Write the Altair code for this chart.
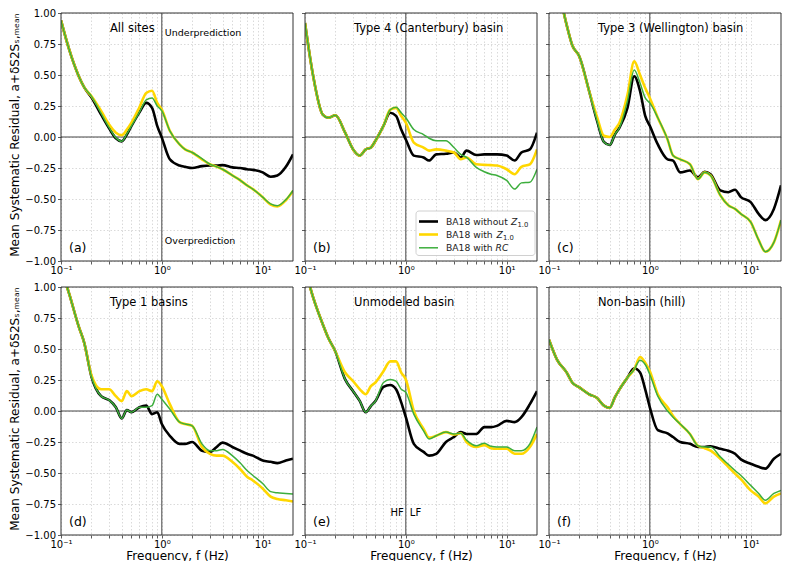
import altair as alt
import pandas as pd

FONT = "DejaVu Sans"

FREQ = [0.1, 0.12, 0.15, 0.17, 0.2, 0.25, 0.3, 0.35, 0.4, 0.45, 0.5, 0.6, 0.7, 0.8, 0.9,
        1.0, 1.2, 1.5, 1.7, 2.0, 2.5, 3.0, 3.5, 4.0, 5.0, 6.0, 7.0, 8.0, 10.0, 12.0, 14.0, 17.0, 20.0]

SERIES = ["BA18 without Z1.0", "BA18 with Z1.0", "BA18 with RC"]
COLORS = ["#000000", "#FFD700", "#3DAE3D"]
WIDTHS = [2.6, 2.6, 1.5]

PANELS = ["All sites", "Type 4 (Canterbury) basin", "Type 3 (Wellington) basin",
          "Type 1 basins", "Unmodeled basin", "Non-basin (hill)"]
LETTERS = ["(a)", "(b)", "(c)", "(d)", "(e)", "(f)"]

# (a) All sites
a_black = [0.94, 0.71, 0.49, 0.40, 0.32, 0.18, 0.07, -0.01, -0.035, 0.02, 0.09, 0.20, 0.275, 0.235, 0.09,
           -0.005, -0.18, -0.23, -0.24, -0.25, -0.235, -0.23, -0.23, -0.227, -0.245, -0.25, -0.26, -0.265,
           -0.285, -0.32, -0.31, -0.24, -0.14]
a_gold = [0.94, 0.71, 0.49, 0.40, 0.33, 0.21, 0.10, 0.035, 0.015, 0.06, 0.115, 0.24, 0.355, 0.373, 0.275,
          0.22, 0.05, -0.06, -0.10, -0.125, -0.18, -0.22, -0.24, -0.26, -0.31, -0.35, -0.39, -0.42,
          -0.485, -0.545, -0.56, -0.51, -0.435]
a_green = [0.94, 0.71, 0.49, 0.40, 0.33, 0.19, 0.075, -0.005, -0.035, 0.025, 0.09, 0.20, 0.30, 0.315, 0.25,
           0.21, 0.05, -0.06, -0.10, -0.125, -0.175, -0.22, -0.24, -0.26, -0.31, -0.35, -0.39, -0.42,
           -0.485, -0.54, -0.555, -0.505, -0.43]

# (b) Type 4 (Canterbury) basin
b_black = [0.92, 0.50, 0.18, 0.155, 0.175, 0.035, -0.10, -0.15, -0.10, -0.085, -0.03, 0.09, 0.195, 0.17, 0.06,
           -0.02, -0.15, -0.165, -0.19, -0.14, -0.135, -0.125, -0.165, -0.11, -0.145, -0.14, -0.14, -0.14,
           -0.15, -0.19, -0.125, -0.10, 0.035]
b_gold = [0.92, 0.50, 0.18, 0.155, 0.175, 0.035, -0.10, -0.15, -0.10, -0.085, -0.03, 0.09, 0.22, 0.235, 0.17,
          0.115, -0.045, -0.085, -0.11, -0.10, -0.11, -0.125, -0.18, -0.165, -0.22, -0.225, -0.227, -0.23,
          -0.26, -0.30, -0.24, -0.22, -0.10]
b_green = [0.92, 0.50, 0.18, 0.155, 0.175, 0.035, -0.10, -0.15, -0.10, -0.085, -0.03, 0.09, 0.22, 0.24, 0.195,
           0.155, 0.06, 0.02, -0.01, -0.03, -0.03, -0.085, -0.14, -0.165, -0.245, -0.28, -0.30, -0.31,
           -0.35, -0.42, -0.37, -0.365, -0.26]

# (c) Type 3 (Wellington) basin
c_black = [1.5, 1.25, 0.9, 0.74, 0.65, 0.37, 0.13, -0.04, -0.065, 0.02, 0.075, 0.235, 0.49, 0.37, 0.17,
           0.09, -0.06, -0.18, -0.19, -0.285, -0.27, -0.325, -0.28, -0.30, -0.43, -0.445, -0.425, -0.485,
           -0.525, -0.62, -0.67, -0.58, -0.39]
c_gold = [1.5, 1.25, 0.9, 0.74, 0.65, 0.37, 0.16, 0.01, 0.0, 0.06, 0.115, 0.34, 0.61, 0.50, 0.395,
          0.315, 0.155, -0.02, -0.15, -0.18, -0.22, -0.34, -0.285, -0.31, -0.47, -0.55, -0.58, -0.62,
          -0.685, -0.83, -0.925, -0.85, -0.67]
c_green = [1.5, 1.25, 0.9, 0.74, 0.65, 0.37, 0.13, -0.04, -0.065, 0.02, 0.075, 0.29, 0.54, 0.435, 0.315,
           0.275, 0.155, -0.02, -0.15, -0.18, -0.22, -0.34, -0.285, -0.31, -0.47, -0.55, -0.58, -0.62,
           -0.685, -0.83, -0.925, -0.85, -0.67]

# (d) Type 1 basins
d_black = [1.15, 0.95, 0.68, 0.55, 0.28, 0.12, 0.088, 0.03, -0.06, 0.008, -0.01, 0.03, 0.043, -0.025, -0.01,
           -0.105, -0.2, -0.265, -0.265, -0.25, -0.32, -0.33, -0.29, -0.255, -0.29, -0.32, -0.345, -0.36,
           -0.40, -0.41, -0.42, -0.40, -0.385]
d_gold = [1.15, 0.95, 0.68, 0.55, 0.29, 0.175, 0.175, 0.12, 0.08, 0.16, 0.12, 0.16, 0.175, 0.16, 0.24,
          0.2, 0.055, -0.09, -0.105, -0.12, -0.29, -0.345, -0.36, -0.36, -0.41, -0.47, -0.53, -0.56,
          -0.625, -0.69, -0.71, -0.72, -0.73]
d_green = [1.15, 0.95, 0.68, 0.55, 0.28, 0.12, 0.088, 0.03, -0.06, 0.008, -0.01, 0.03, 0.03, 0.043, 0.135,
           0.095, 0.015, -0.09, -0.105, -0.12, -0.265, -0.32, -0.32, -0.31, -0.36, -0.42, -0.48, -0.52,
           -0.585, -0.65, -0.66, -0.665, -0.67]

# (e) Unmodeled basin
e_black = [1.15, 0.92, 0.70, 0.59, 0.48, 0.255, 0.16, 0.08, -0.01, 0.04, 0.08, 0.195, 0.21, 0.175, 0.07,
           -0.05, -0.265, -0.33, -0.36, -0.345, -0.25, -0.21, -0.17, -0.185, -0.185, -0.13, -0.13, -0.12,
           -0.08, -0.09, -0.05, 0.055, 0.16]
e_gold = [1.15, 0.92, 0.70, 0.59, 0.48, 0.31, 0.24, 0.175, 0.135, 0.20, 0.23, 0.32, 0.40, 0.40, 0.31,
          0.255, 0.0, -0.145, -0.215, -0.2, -0.17, -0.19, -0.18, -0.25, -0.29, -0.275, -0.30, -0.305,
          -0.305, -0.345, -0.345, -0.29, -0.185]
e_green = [1.15, 0.92, 0.70, 0.59, 0.48, 0.255, 0.16, 0.08, -0.01, 0.04, 0.08, 0.23, 0.255, 0.24, 0.175,
           0.15, -0.025, -0.16, -0.225, -0.2, -0.17, -0.185, -0.18, -0.235, -0.28, -0.26, -0.285, -0.29,
           -0.29, -0.32, -0.32, -0.265, -0.13]

# (f) Non-basin (hill)
f_black = [0.575, 0.415, 0.31, 0.23, 0.19, 0.135, 0.105, 0.043, 0.025, 0.11, 0.175, 0.27, 0.345, 0.31, 0.175,
           0.03, -0.155, -0.18, -0.21, -0.25, -0.265, -0.29, -0.29, -0.285, -0.305, -0.32, -0.345, -0.39,
           -0.425, -0.45, -0.465, -0.385, -0.345]
f_gold = [0.575, 0.415, 0.31, 0.23, 0.19, 0.135, 0.105, 0.043, 0.025, 0.11, 0.175, 0.27, 0.335, 0.435, 0.39,
          0.32, 0.135, 0.03, -0.04, -0.105, -0.185, -0.28, -0.30, -0.32, -0.385, -0.45, -0.505, -0.55,
          -0.64, -0.69, -0.745, -0.69, -0.665]
f_green = [0.575, 0.415, 0.31, 0.23, 0.19, 0.135, 0.105, 0.043, 0.025, 0.11, 0.175, 0.27, 0.335, 0.41, 0.375,
           0.295, 0.12, 0.0, -0.05, -0.105, -0.185, -0.28, -0.29, -0.29, -0.37, -0.43, -0.48, -0.52,
           -0.60, -0.665, -0.72, -0.665, -0.64]

PANEL_DATA = [
    (a_black, a_gold, a_green), (b_black, b_gold, b_green), (c_black, c_gold, c_green),
    (d_black, d_gold, d_green), (e_black, e_gold, e_green), (f_black, f_gold, f_green),
]

XTICKS = [0.1, 0.2, 0.3, 0.4, 0.5, 0.6, 0.7, 0.8, 0.9, 1, 2, 3, 4, 5, 6, 7, 8, 9, 10]
YTICKS = [-1.0, -0.75, -0.5, -0.25, 0.0, 0.25, 0.5, 0.75, 1.0]
REF_F = [1.0]   # HF / LF boundary
REF_V = [0.0]   # zero residual

W, H = 232, 248
YTITLE = "Mean Systematic Residual, a+δS2Sₛ,ₘₑₐₙ"
XTITLE = "Frequency, f (Hz)"

ref = pd.DataFrame({"f": REF_F, "v": REF_V})


def make_panel(i):
    rows = []
    for s, vals in zip(SERIES, PANEL_DATA[i]):
        for f, v in zip(FREQ, vals):
            rows.append({"f": f, "v": v, "series": s})
    d = pd.DataFrame(rows)
    left = i % 3 == 0
    bottom = i >= 3

    x_axis = alt.Axis(values=XTICKS, labelFlush=False, labelOverlap=False,
                      labelExpr="datum.value == 0.1 ? '10⁻¹' : datum.value == 1 ? '10⁰' : datum.value == 10 ? '10¹' : ''",
                      title=XTITLE if bottom else None, tickSize=3, labelPadding=1)
    y_axis = alt.Axis(values=YTICKS, format=".2f", labels=left, labelFlush=False, labelOverlap=False,
                      title=YTITLE if left else None, tickSize=3.5, labelPadding=2,
                      titleAnchor="end")
    xs = alt.X("f:Q", scale=alt.Scale(type="log", domain=[0.1, 20], nice=False), axis=x_axis)
    ys = alt.Y("v:Q", scale=alt.Scale(domain=[-1, 1], nice=False), axis=y_axis)

    def txt(text, x, y, size, align="left", dx=0, dy=0, style="normal", color="#000000"):
        return alt.Chart(ref).mark_text(text=text, align=align, baseline="middle", font=FONT,
                                        fontSize=size, dx=dx, dy=dy, fontStyle=style,
                                        color=color).encode(x=x, y=y)

    layers = [
        alt.Chart(ref).mark_rule(color="#444444", strokeWidth=1).encode(x=xs),
        alt.Chart(ref).mark_rule(color="#444444", strokeWidth=1).encode(y=ys),
    ]
    for s, c, w in zip(SERIES, COLORS, WIDTHS):
        layers.append(
            alt.Chart(d).transform_filter(alt.datum.series == s)
            .mark_line(color=c, strokeWidth=w, clip=True, strokeJoin="round", interpolate="monotone")
            .encode(x=xs, y=ys)
        )

    layers.append(txt(PANELS[i], alt.value(49), alt.value(16), 11.5))
    layers.append(txt(LETTERS[i], alt.value(8), alt.value(H - 13), 12.5))
    if i == 0:
        layers.append(txt("Underprediction", xs, alt.value(19.5), 9.5, dx=3))
        layers.append(txt("Overprediction", xs, alt.value(H - 20.5), 9.5, dx=3))
    if i == 4:
        layers.append(txt("HF", xs, alt.value(H - 22), 10, align="right", dx=-2))
        layers.append(txt("LF", xs, alt.value(H - 22), 10, dx=4))
    if i == 1:
        layers.append(alt.Chart(ref).mark_rect(fill="white", stroke="#cccccc", strokeWidth=1,
                                               cornerRadius=3, opacity=0.9)
                      .encode(x=alt.value(W - 121), x2=alt.value(W - 2), y=alt.value(H - 50),
                              y2=alt.value(H - 5.5)))
        rows_y = [H - 39.5, H - 26.5, H - 13.2]
        for (c, w, ry) in zip(COLORS, WIDTHS, rows_y):
            layers.append(alt.Chart(ref).mark_rule(color=c, strokeWidth=w)
                          .encode(x=alt.value(W - 118), x2=alt.value(W - 99), y=alt.value(ry)))
        lc = "#222222"
        x0 = W - 91
        fs = 9.2
        layers.append(txt("BA18 without", alt.value(x0), alt.value(rows_y[0]), fs, color=lc))
        layers.append(txt("Z", alt.value(x0 + 65), alt.value(rows_y[0]), fs, style="italic", color=lc))
        layers.append(txt("1.0", alt.value(x0 + 71.5), alt.value(rows_y[0]), 6.8, dy=3, color=lc))
        layers.append(txt("BA18 with", alt.value(x0), alt.value(rows_y[1]), fs, color=lc))
        layers.append(txt("Z", alt.value(x0 + 50.5), alt.value(rows_y[1]), fs, style="italic", color=lc))
        layers.append(txt("1.0", alt.value(x0 + 57), alt.value(rows_y[1]), 6.8, dy=3, color=lc))
        layers.append(txt("BA18 with", alt.value(x0), alt.value(rows_y[2]), fs, color=lc))
        layers.append(txt("RC", alt.value(x0 + 49.5), alt.value(rows_y[2]), fs, style="italic", color=lc))

    # panel frame on top of the grid
    layers.append(alt.Chart(ref).mark_rect(fill=None, fillOpacity=0, stroke="#333333", strokeWidth=1)
                  .encode(x=alt.value(0), x2=alt.value(W), y=alt.value(0), y2=alt.value(H)))

    return alt.layer(*layers).properties(width=W, height=H)


chart = alt.concat(*[make_panel(i) for i in range(6)], columns=3,
                   spacing={"row": 26, "column": 12}, bounds="flush").properties(
    padding={"left": 0, "top": 0, "right": 0, "bottom": 0}
).configure_view(
    strokeWidth=0
).configure_axis(
    domain=False, tickColor="#333333", tickWidth=0.8,
    labelFont=FONT, labelFontSize=10, labelColor="#000000",
    titleFont=FONT, titleFontSize=12, titleFontWeight="normal", titleColor="#000000",
    grid=True, gridColor="#d0d0d0", gridDash=[1.5, 2], gridWidth=0.8,
).configure_axisY(titlePadding=3).configure_axisX(titlePadding=1)

chart.save("out.html", embed_options={"renderer": "svg", "actions": False})
